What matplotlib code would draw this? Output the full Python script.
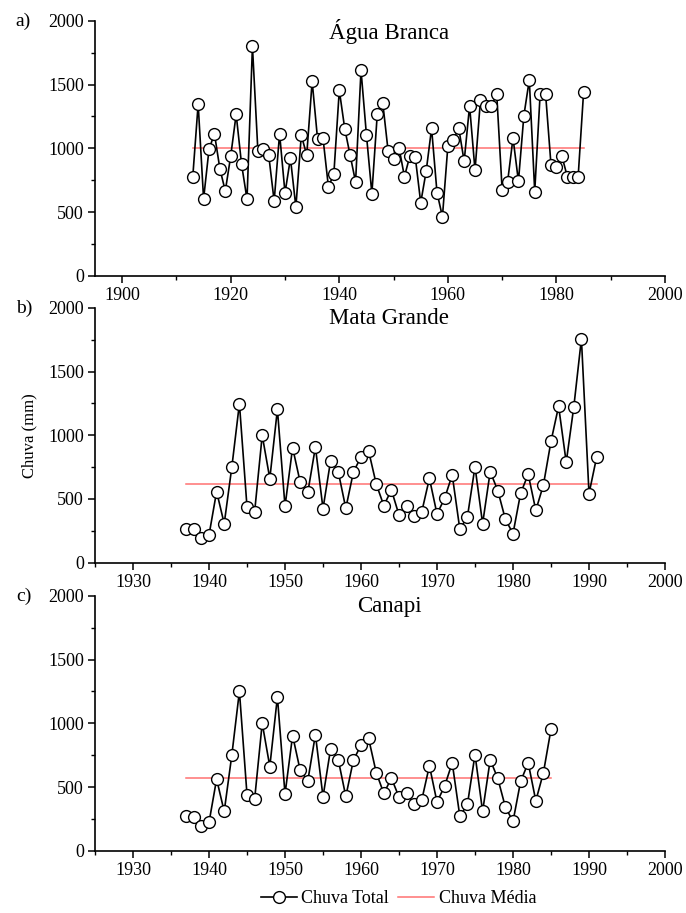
import numpy as np
import matplotlib
matplotlib.use("Agg")
import matplotlib.pyplot as plt
from matplotlib.ticker import MultipleLocator

plt.rcParams['font.family'] = ['Liberation Serif', 'DejaVu Serif']

# Água Branca
anos_a = np.arange(1913, 1986)
chuva_a = [772, 1348, 602, 992, 1115, 840, 665, 940, 1267, 874, 600, 1801, 982, 997, 945,
           586, 1115, 649, 922, 539, 1102, 948, 1526, 1071, 1079, 696, 801, 1456, 1155, 945,
           736, 1613, 1105, 644, 1272, 1359, 977, 914, 1005, 778, 940, 929, 573, 819, 1157,
           652, 463, 1018, 1066, 1160, 898, 1333, 827, 1377, 1335, 1333, 1424, 673, 736, 1081,
           741, 1257, 1537, 660, 1429, 1427, 869, 853, 940, 778, 778, 778, 1440]
media_a = 1000

# Mata Grande
anos_b = np.arange(1937, 1992)
chuva_b = [267, 262, 191, 217, 558, 306, 749, 1249, 437, 398, 1000, 660, 1204, 442, 903,
           631, 552, 908, 424, 801, 715, 427, 712, 830, 877, 618, 448, 571, 374, 448,
           367, 401, 662, 382, 505, 689, 264, 359, 754, 306, 715, 565, 340, 228, 545,
           694, 411, 610, 953, 1228, 788, 1223, 1757, 542, 827]
media_b = 620

# Canapi
anos_c = np.arange(1937, 1986)
chuva_c = [272, 264, 196, 222, 562, 308, 750, 1252, 439, 403, 1001, 661, 1208, 444, 904,
           630, 549, 912, 423, 800, 716, 426, 711, 829, 881, 614, 450, 570, 421, 452,
           366, 400, 667, 382, 507, 690, 272, 363, 755, 308, 714, 567, 342, 230, 544,
           690, 392, 612, 954]
media_c = 570

paineis = [
    ("a)", "Água Branca", anos_a, chuva_a, media_a, (1895, 2000), 20, 10, 0.698),
    ("b)", "Mata Grande", anos_b, chuva_b, media_b, (1925, 2000), 10, 5, 0.3837),
    ("c)", "Canapi", anos_c, chuva_c, media_c, (1925, 2000), 10, 5, 0.0682),
]

fig = plt.figure(figsize=(6.86, 9.13), dpi=100)

for letra, nome, anos, chuva, media, xlim, maj, mn, base in paineis:
    ax = fig.add_axes([0.1385, base, 0.8309, 0.2791])
    ax.plot(anos, chuva, color='black', lw=1.2, marker='o', ms=8.5,
            mfc='white', mec='black', mew=1.0, label='Chuva Total', zorder=3)
    ax.plot([anos[0], anos[-1]], [media, media], color='#ff7272', lw=1.1,
            label='Chuva Média', zorder=2)
    ax.set_xlim(*xlim)
    ax.set_ylim(0, 2000)
    ax.xaxis.set_major_locator(MultipleLocator(maj))
    ax.xaxis.set_minor_locator(MultipleLocator(mn))
    ax.yaxis.set_major_locator(MultipleLocator(500))
    ax.yaxis.set_minor_locator(MultipleLocator(250))
    ax.spines['top'].set_visible(False)
    ax.spines['right'].set_visible(False)
    ax.spines['left'].set_linewidth(1.2)
    ax.spines['bottom'].set_linewidth(1.2)
    ax.tick_params(which='major', direction='out', length=5, width=1.1, labelsize=13, pad=3)
    ax.tick_params(which='minor', direction='out', length=3, width=1.0)
    ax.text(0.516, 0.96, nome, transform=ax.transAxes, ha='center', va='center', fontsize=16.5)
    ax.text(-0.139, 1.0, letra, transform=ax.transAxes, ha='left', va='center', fontsize=14)
    if letra == "b)":
        ax.set_ylabel("Chuva (mm)", fontsize=12, labelpad=8)
    if letra == "c)":
        handles, labels = ax.get_legend_handles_labels()

fig.legend(handles, labels, loc='center', bbox_to_anchor=(0.581, 0.016), ncol=2,
           frameon=False, fontsize=13, handlelength=2.0, columnspacing=0.5,
           handletextpad=0.25)

fig.savefig("out.png", dpi=100)
